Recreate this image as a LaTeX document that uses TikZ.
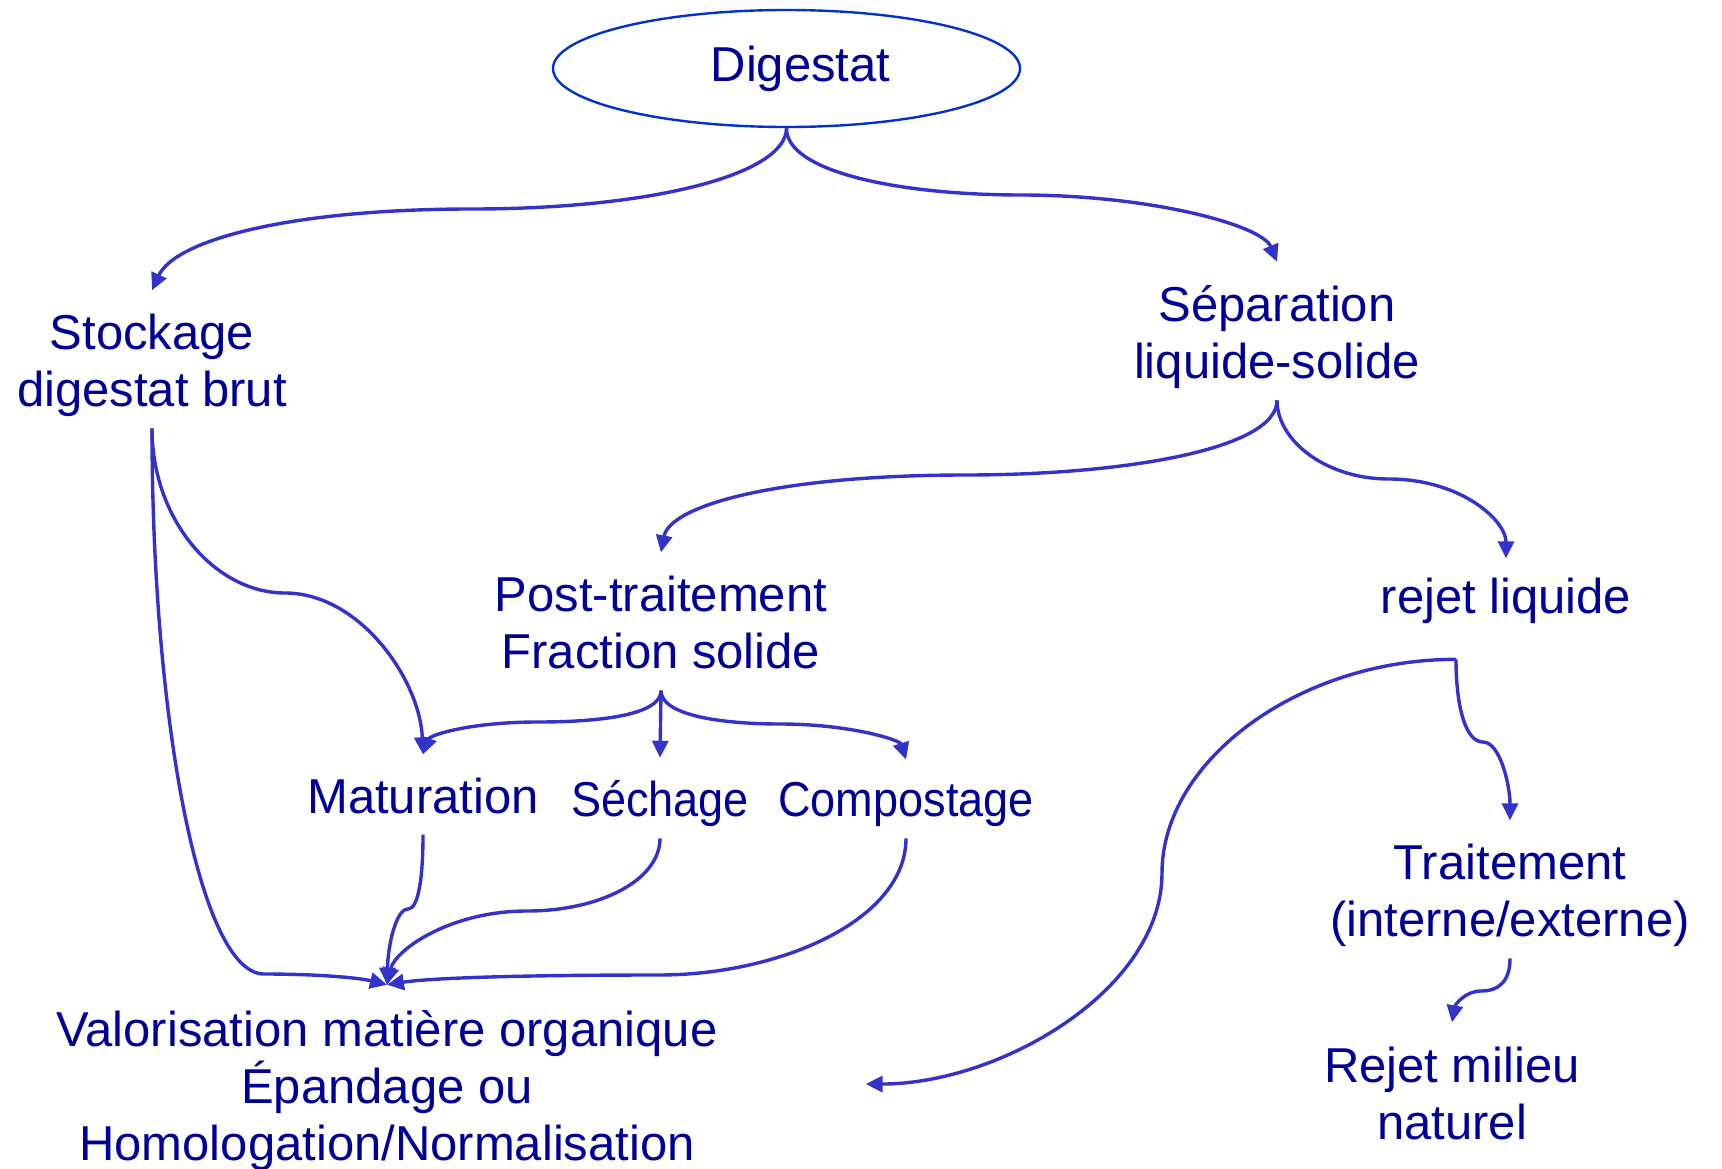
\documentclass[tikz,border=0pt]{standalone}
\usepackage{fontspec}
\setmainfont{Liberation Sans}
\newfontfamily\narrowfont{Liberation Sans}[FakeStretch=0.92]
\usetikzlibrary{arrows.meta,shapes.geometric}
\definecolor{txt}{RGB}{0,0,153}
\definecolor{ln}{RGB}{51,51,204}
\definecolor{ell}{RGB}{0,51,204}
\begin{document}
\begin{tikzpicture}[x=1pt,y=-1pt,
  lbl/.style={text=txt,font=\fontsize{49}{57}\selectfont,align=center,inner xsep=2pt,inner ysep=12pt,anchor=base},
  narrow/.style={font=\fontsize{49}{57}\narrowfont},
  conn/.style={draw=ln,line width=3.4pt,-{Triangle[length=17pt,width=16pt]}},
  oval/.style={ellipse,draw=ell,line width=2.4pt,minimum width=467pt,minimum height=117pt,inner sep=0pt,text=txt,font=\fontsize{49}{57}\selectfont}]
\useasboundingbox[fill=white] (0,0) rectangle (1722,1169);

% base anchor = baseline of the last line
\node[oval] (dig) at (786.5,68.5) {\hspace*{28pt}Digestat};
\node[lbl] (stock) at (152,406) {Stockage\\digestat brut};
\node[lbl] (sep) at (1277,378) {Séparation\\liquide-solide};
\node[lbl] (post) at (661,668) {Post-traitement\\Fraction solide};
\node[lbl] (rej) at (1506,613) {rejet liquide};
\node[lbl] (mat) at (423,813) {Maturation};
\node[lbl,narrow] (sech) at (660,816) {Séchage};
\node[lbl,narrow] (comp) at (906,816) {Compostage};
\node[lbl] (trait) at (1510,936) {Traitement\\(interne/externe)};
\node[lbl] (val) at (387,1160) {Valorisation matière organique\\Épandage ou\\Homologation/Normalisation};
\node[lbl] (rejm) at (1452,1139) {Rejet milieu\\naturel};

\draw[conn] (dig.south) .. controls (786,175) and (650,209) .. (472,209) .. controls (290,209) and (175,240) .. ([yshift=11pt]stock.north);
\draw[conn] (dig.south) .. controls (786,172) and (900,195) .. (1021,195) .. controls (1150,195) and (1262,225) .. ([yshift=11pt]sep.north);
\draw[conn] (stock.south) .. controls (152,520) and (215,593) .. (285,593) .. controls (360,593) and (420,680) .. ([yshift=11pt]mat.north);
\draw[conn] (stock.south) .. controls (152,720) and (200,974) .. (264,974) .. controls (320,974) and (360,978) .. ([yshift=13pt]val.north);
\draw[conn] (sep.south) .. controls (1277,450) and (1120,475) .. (966,475) .. controls (780,475) and (670,505) .. ([yshift=11pt]post.north);
\draw[conn] (sep.south) .. controls (1277,440) and (1325,479) .. (1389,479) .. controls (1460,479) and (1506,520) .. ([yshift=7pt]rej.north);
\draw[conn] ([yshift=-10pt]post.south) .. controls (661,715) and (600,722) .. (538,722) .. controls (470,722) and (430,735) .. ([yshift=11pt]mat.north);
\draw[conn] ([yshift=-10pt]post.south) -- ([yshift=10pt]sech.north);
\draw[conn] ([yshift=-10pt]post.south) .. controls (661,715) and (720,724) .. (780,724) .. controls (850,724) and (900,740) .. ([yshift=10pt]comp.north);
\draw[conn] ([yshift=-9pt]mat.south) .. controls (423,880) and (418,909) .. (408,909) .. controls (396,909) and (388,945) .. ([yshift=13pt]val.north);
\draw[conn] (sech.south) .. controls (660,880) and (600,911) .. (527,911) .. controls (450,911) and (395,950) .. ([yshift=13pt]val.north);
\draw[conn] (comp.south) .. controls (906,920) and (780,975) .. (659,975) .. controls (520,975) and (430,978) .. ([yshift=13pt]val.north);
\draw[conn] ([xshift=-50pt,yshift=-24pt]rej.south) .. controls (1300,659) and (1162,760) .. (1162,873) .. controls (1162,990) and (1000,1084) .. ([xshift=146pt,yshift=6pt]val.east);
\draw[conn] ([xshift=-50pt,yshift=-24pt]rej.south) .. controls (1456,705) and (1465,742) .. (1483,742) .. controls (1500,742) and (1510,785) .. ([yshift=11pt]trait.north);
\draw[conn] (trait.south) .. controls (1510,980) and (1500,991) .. (1481,991) .. controls (1465,991) and (1455,1005) .. ([yshift=12pt]rejm.north);
\end{tikzpicture}
\end{document}
